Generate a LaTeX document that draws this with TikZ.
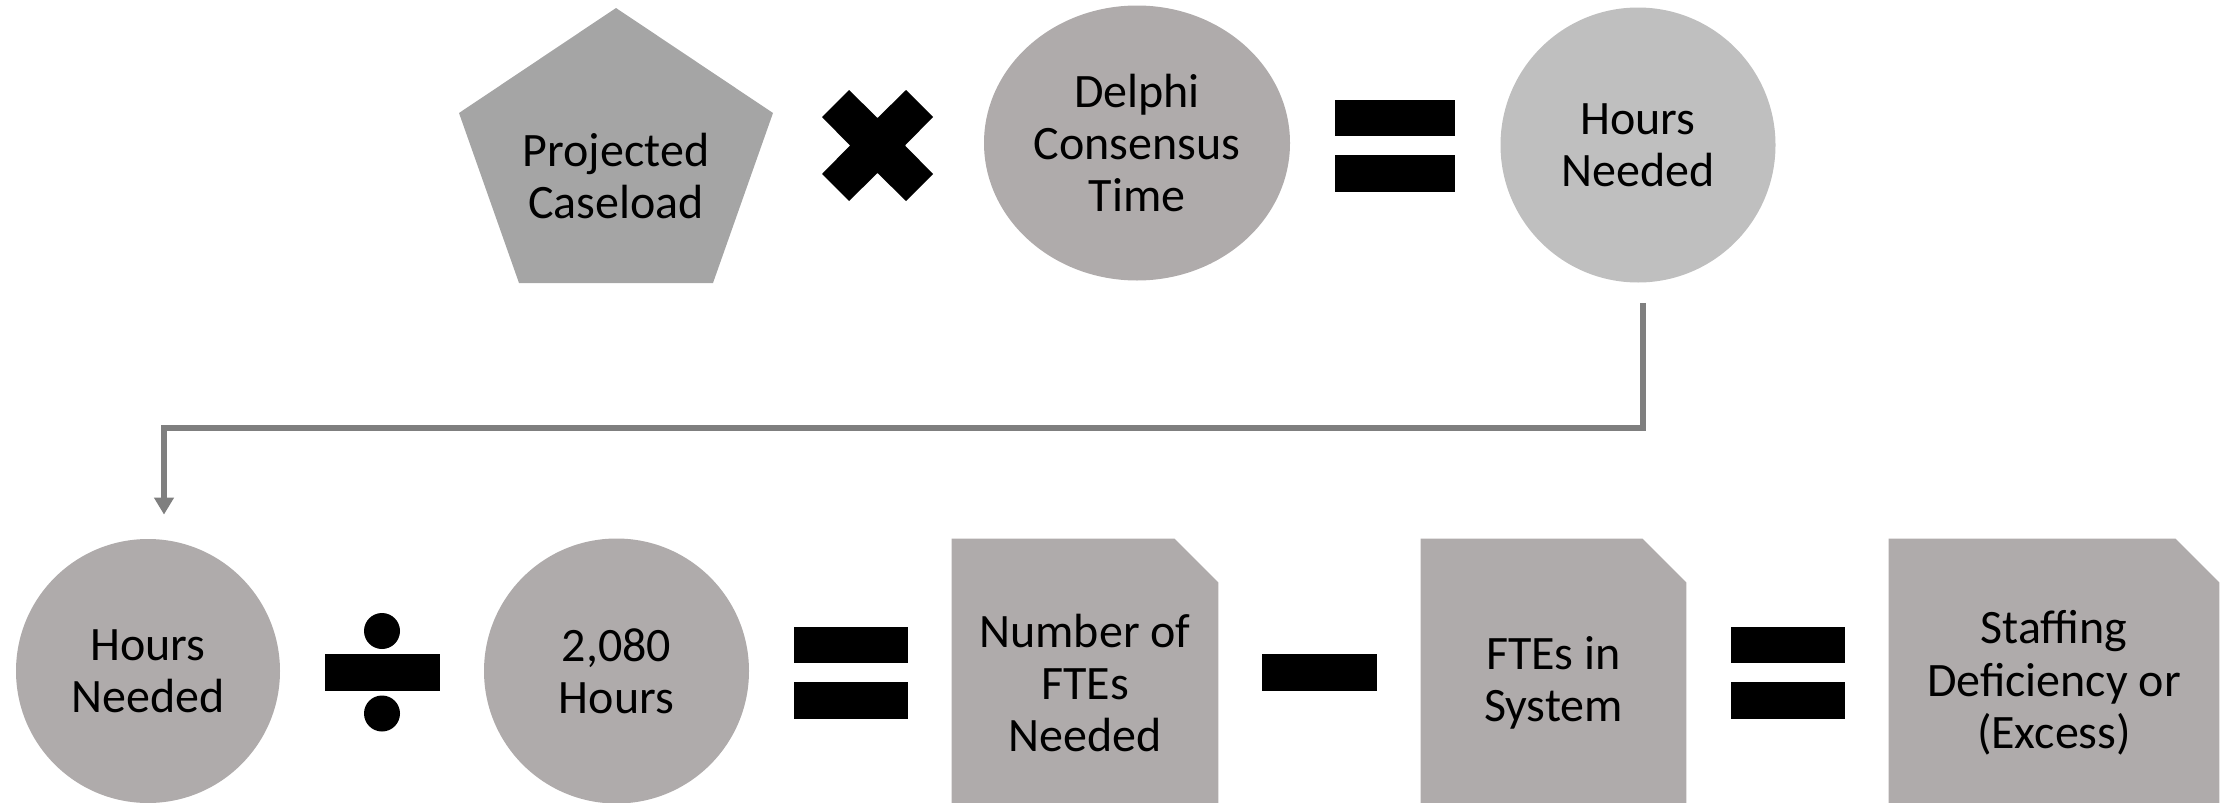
\documentclass[tikz,border=0pt]{standalone}
\usepackage{fontspec}
\setmainfont{Carlito}
\usetikzlibrary{arrows.meta,shapes.geometric}
\definecolor{pentafill}{HTML}{A5A5A5}
\definecolor{warmgray}{HTML}{AFABAB}
\definecolor{lightgray}{HTML}{BFBFBF}
\definecolor{conncol}{HTML}{7F7F7F}
\pgfdeclarelayer{bg}
\pgfsetlayers{bg,main}
\begin{document}
\begin{tikzpicture}[x=0.5pt,y=-0.5pt,
  lbl/.style={font=\fontsize{24pt}{26.2pt}\selectfont, align=center, text=black, inner sep=0pt},
  oval/.style={ellipse, lbl, draw=none},
  snipbox/.style={rectangle, lbl, minimum height=144pt},
  connector/.style={draw=conncol, line width=2.8pt, -{Triangle[width=9.5pt,length=8.5pt]}},
  eqsign/.pic={\fill[black] (-#1,-46) rectangle (#1,-9.5); \fill[black] (-#1,9.5) rectangle (#1,46);},
  minussign/.pic={\fill[black] (-57.5,-18.5) rectangle (57.5,18.5);},
  divsign/.pic={\fill[black] (-57.5,-18.5) rectangle (57.5,18.5);
                \fill[black] (0,-41.5) circle[radius=9pt];
                \fill[black] (0,41) circle[radius=9pt];},
  timessign/.pic={\fill[black] (-28.5,-55.5) -- (0,-27.5) -- (28.5,-55.5) -- (55.5,-28.5) -- (27.5,0)
                  -- (55.5,28.5) -- (28.5,55.5) -- (0,27.5) -- (-28.5,55.5) -- (-55.5,28.5)
                  -- (-27.5,0) -- (-55.5,-28.5) -- cycle;}
]
\useasboundingbox (0,0) rectangle (2233,803);

% top row
\node[lbl] (pc) at (616,176) {Projected\\Caseload};
\begin{pgfonlayer}{bg}
  \fill[pentafill] (616,8) -- (773,113) -- (713,283) -- (519,283) -- (459,113) -- cycle;
\end{pgfonlayer}
\pic (times) at (877.5,145.5) {timessign};
\node[oval, fill=warmgray, minimum width=153pt, minimum height=137.5pt] (delphi) at (1137,143) {Delphi\\Consensus\\Time};
\pic (eqa) at (1395,145.5) {eqsign=60};
\node[oval, fill=lightgray, minimum width=137.5pt, minimum height=137.5pt] (h1) at (1638,145) {Hours\\Needed};

% bottom row
\node[oval, fill=warmgray, minimum width=132pt, minimum height=132pt] (h2) at (148,671) {Hours\\Needed};
\pic (divide) at (382,672.5) {divsign};
\node[oval, fill=warmgray, minimum width=132.5pt, minimum height=132.5pt] (hrs) at (616.5,671) {2,080\\Hours};
\pic (eqb) at (851,672.5) {eqsign=57};
\node[snipbox, minimum width=133pt] (fneed) at (1085,683) {Number of\\FTEs\\Needed};
\pic (minus) at (1319.5,672.5) {minussign};
\node[snipbox, minimum width=132.5pt] (fsys) at (1553.5,683) {FTEs in\\System};
\pic (eqc) at (1787.5,672.5) {eqsign=57};
\node[snipbox, minimum width=165pt] (staff) at (2054,683) {Staffing\\Deficiency or\\(Excess)};

\begin{pgfonlayer}{bg}
  \foreach \n in {fneed,fsys,staff}{
    \fill[warmgray] (\n.north west) -- ([xshift=-22pt]\n.north east) -- ([yshift=-22pt]\n.north east)
      -- (\n.south east) -- (\n.south west) -- cycle;
  }
\end{pgfonlayer}

% connector
\draw[connector] ([xshift=2.5pt,yshift=-10pt]h1.south) -- ++(0,125) -| ([xshift=8pt,yshift=12pt]h2.north);
\end{tikzpicture}
\end{document}
